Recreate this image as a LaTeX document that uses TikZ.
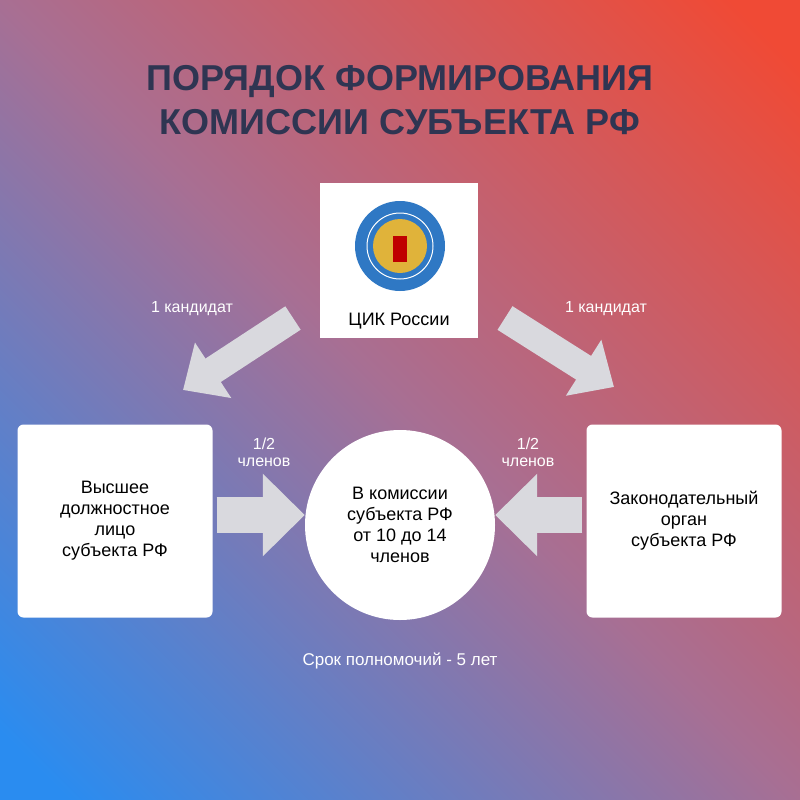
\documentclass[tikz,border=0pt]{standalone}
\usepackage{fontspec}
\setmainfont{Liberation Sans}
\usetikzlibrary{arrows.meta,shapes.geometric}
\definecolor{bgblue}{HTML}{2A8CF0}
\definecolor{bgred}{HTML}{F04A35}
\definecolor{bgmid}{HTML}{A86F93}
\definecolor{titlec}{HTML}{2F3552}
\definecolor{arrowc}{HTML}{D9D9DE}
\definecolor{cikblue}{HTML}{2F78C4}
\definecolor{gold}{HTML}{E0B33A}
\tikzset{
  box/.style={draw=none,fill=white,rounded corners=6pt,minimum width=195pt,minimum height=193pt,align=center,font=\fontsize{18}{21}\selectfont},
  wtext/.style={text=white,align=center,font=\fontsize{16}{17}\selectfont},
  bigarrow/.style={draw=arrowc,line width=36pt,-{Triangle[width=80pt,length=42pt]}},
  diagarrow/.style={draw=arrowc,line width=28pt,-{Triangle[width=64pt,length=36pt]}},
}
\begin{document}
\begin{tikzpicture}[x=1pt,y=-1pt]
\useasboundingbox (0,0) rectangle (800,800);
\clip (0,0) rectangle (800,800);
\shade[left color=bgred,right color=bgblue,middle color=bgmid,shading angle=-45] (-120,-120) rectangle (920,920);
\node[text=titlec,font=\bfseries\fontsize{36}{44}\selectfont,align=center] (title) at (400,100) {ПОРЯДОК ФОРМИРОВАНИЯ\\КОМИССИИ СУБЪЕКТА РФ};
\node[fill=white,minimum width=158pt,minimum height=155pt] (cik) at (399,260) {};
\fill[cikblue] (400,246) circle (45pt);
\draw[white,line width=1pt] (400,246) circle (33pt);
\fill[gold] (400,246) circle (27pt);
\fill[red!75!black] (393,236) rectangle (407,262);
\node[font=\fontsize{18}{20}\selectfont] (cikt) at (399,321) {ЦИК России};
\node[box] (left) at (115,521) {Высшее\\должностное\\лицо\\субъекта РФ};
\node[box] (right) at (684,521) {Законодательный\\орган\\субъекта РФ};
\node[circle,fill=white,minimum size=190pt,align=center,font=\fontsize{18}{21}\selectfont] (center) at (400,525) {В комиссии\\субъекта РФ\\от 10 до 14\\членов};
\coordinate (dl1) at (293,318); \coordinate (dl2) at (183,390);
\coordinate (dr1) at (505,318); \coordinate (dr2) at (614,387);
\draw[diagarrow] (dl1) -- (dl2);
\draw[diagarrow] (dr1) -- (dr2);
\draw[bigarrow] (left.east) ++(4,-6) coordinate (la) (la) -- (center.west |- la);
\draw[bigarrow] (right.west) ++(-4,-6) coordinate (ra) (ra) -- (center.east |- ra);
\node[wtext] (k1) at (192,309) {1 кандидат};
\node[wtext] (k2) at (606,309) {1 кандидат};
\node[wtext] (h1) at (264,452) {1/2\\членов};
\node[wtext] (h2) at (528,452) {1/2\\членов};
\node[wtext,font=\fontsize{17}{20}\selectfont] (term) at (400,661) {Срок полномочий - 5 лет};
\end{tikzpicture}
\end{document}
